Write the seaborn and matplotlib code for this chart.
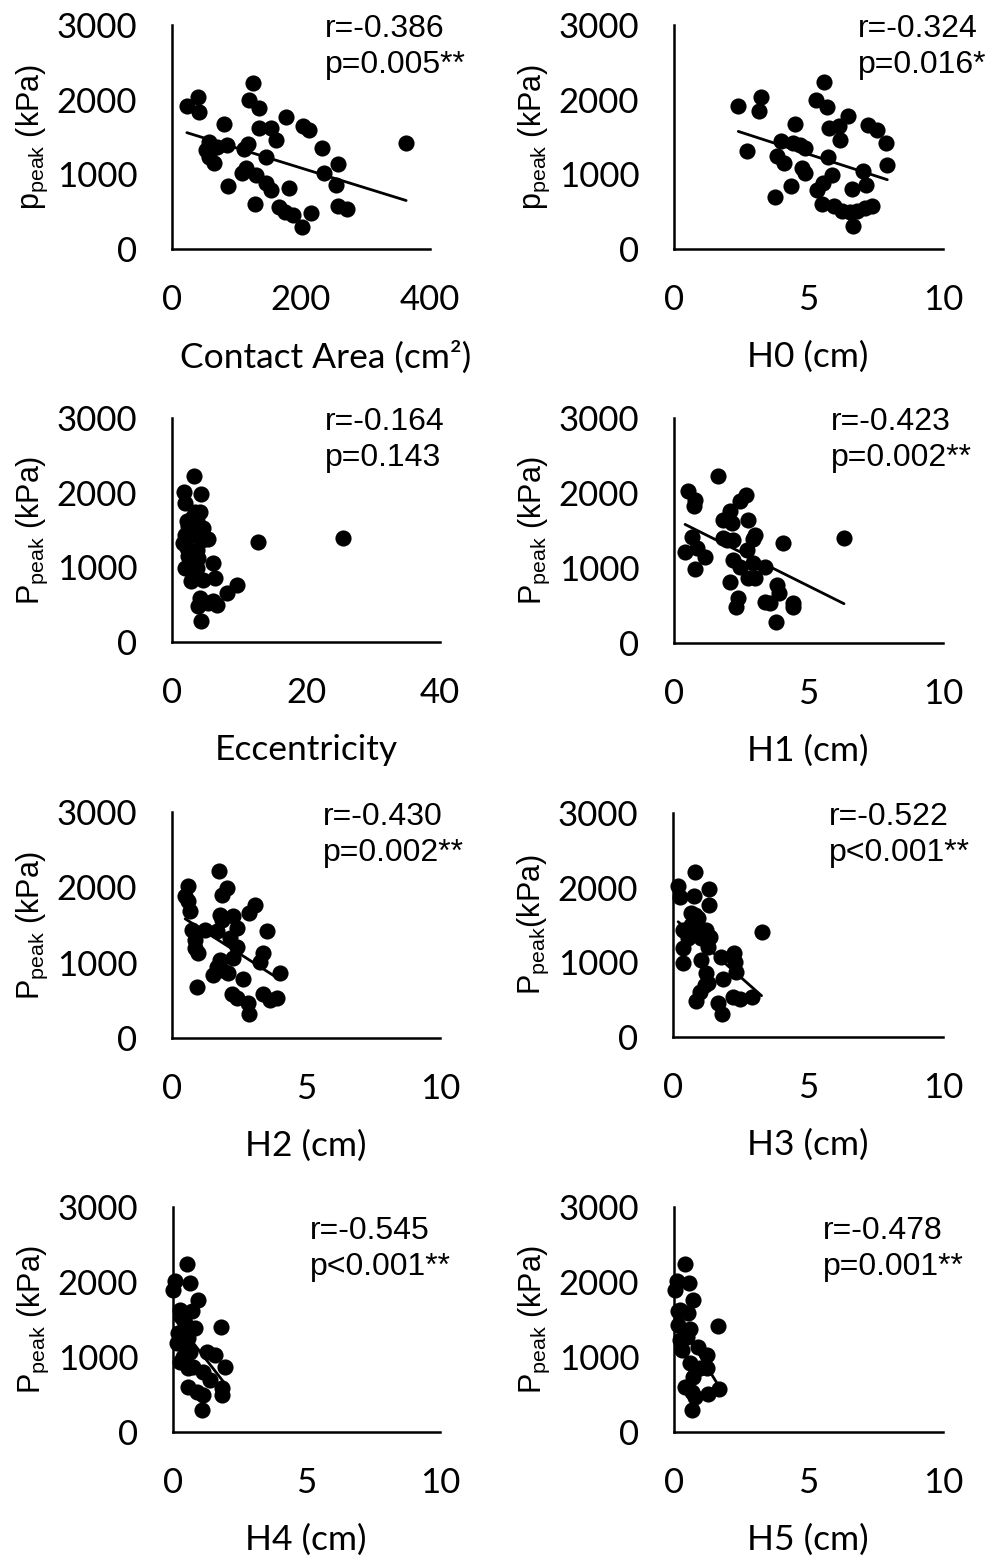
import matplotlib
matplotlib.use("Agg")
import matplotlib.pyplot as plt
import seaborn as sns

# ---- data: peak pressure (kPa) against each geometric parameter ----
contact_area = [125, 40, 23, 42, 120, 135, 81, 176, 203, 213, 135, 154, 162, 233, 363, 257, 235, 254,
                58, 52, 69, 85, 57, 65, 118, 111, 145, 115, 108, 130, 145, 154, 181, 87, 128, 166,
                175, 188, 201, 216, 257, 271]
ppeak_area = [2227, 2031, 1915, 1838, 1995, 1892, 1670, 1771, 1647, 1593, 1616, 1624, 1460, 1348, 1415,
              1134, 1022, 857, 1437, 1326, 1370, 1393, 1236, 1148, 1406, 1335, 1228, 1081, 1014, 991,
              880, 790, 813, 848, 603, 566, 499, 455, 299, 486, 576, 536]

h0 = [5.58, 2.39, 3.22, 3.17, 5.28, 5.68, 6.48, 4.50, 5.77, 6.14, 6.17, 7.22, 7.56, 7.88, 7.93, 2.72,
      3.97, 4.43, 4.68, 4.87, 3.84, 4.09, 4.75, 4.87, 5.74, 5.86, 5.53, 5.30, 4.34, 3.75, 7.04, 7.14,
      6.61, 5.49, 5.95, 6.23, 6.54, 6.64, 7.10, 7.35, 6.79]
ppeak_h0 = [2231, 1919, 2035, 1842, 1990, 1896, 1776, 1674, 1620, 1642, 1464, 1655, 1597, 1419, 1129,
            1307, 1441, 1419, 1397, 1352, 1240, 1152, 1085, 1018, 1232, 995, 884, 794, 848, 696, 1039,
            861, 803, 607, 570, 503, 490, 303, 549, 580, 503]

eccentricity = [3.28, 1.79, 4.28, 1.94, 4.18, 2.94, 2.43, 3.69, 1.94, 3.18, 5.42, 12.88, 25.57, 2.19,
                3.69, 2.43, 6.16, 1.94, 3.69, 2.79, 4.67, 6.42, 9.66, 8.16, 4.18, 6.16, 6.67, 3.93,
                5.42, 4.28, 1.69, 2.94, 3.43, 2.69, 4.43, 4.67, 3.93, 2.19]
ppeak_ecc = [2224, 2015, 1980, 1860, 1747, 1659, 1547, 1614, 1436, 1436, 1378, 1333, 1392, 1258, 1236,
             1146, 1059, 991, 991, 812, 835, 857, 768, 657, 590, 545, 501, 478, 523, 278, 1327, 1505,
             1747, 1103, 1371, 1527, 1125, 1614]

h1 = [1.65, 0.53, 0.78, 0.74, 2.68, 2.45, 2.08, 1.81, 2.14, 2.76, 3.01, 2.95, 4.04, 6.32, 0.66, 1.83,
      2.20, 0.41, 0.84, 1.15, 0.78, 2.72, 2.20, 2.45, 2.95, 3.38, 2.08, 2.76, 3.01, 3.82, 3.91, 2.39,
      2.30, 3.38, 3.57, 4.41, 4.41, 3.79, 1.96]
ppeak_h1 = [2222, 2021, 1910, 1821, 1977, 1888, 1754, 1643, 1599, 1643, 1443, 1385, 1332, 1399, 1420,
            1399, 1367, 1220, 1265, 1153, 985, 1242, 1109, 1019, 1065, 1019, 819, 864, 864, 775, 664,
            597, 485, 552, 530, 530, 485, 285, 1376]

h2 = [1.76, 0.61, 0.49, 0.61, 2.04, 1.85, 3.10, 2.88, 0.67, 1.79, 2.29, 1.85, 3.53, 0.74, 1.23, 1.67,
      2.41, 0.86, 2.16, 0.86, 2.41, 0.98, 2.29, 3.41, 3.28, 1.79, 1.85, 1.54, 2.10, 4.03, 2.64, 0.92,
      2.23, 2.41, 2.85, 2.88, 3.38, 3.66, 3.91, 1.67]
ppeak_h2 = [2212, 2022, 1879, 1813, 1991, 1902, 1769, 1659, 1680, 1636, 1613, 1569, 1414, 1436, 1436,
            1414, 1459, 1303, 1326, 1193, 1214, 1127, 1060, 1127, 1015, 1037, 904, 838, 861, 861, 781,
            674, 585, 528, 462, 319, 585, 505, 528, 948]

h3 = [0.80, 0.19, 0.25, 1.33, 0.77, 1.33, 0.68, 0.93, 0.37, 0.80, 1.24, 3.28, 0.56, 1.05, 1.36, 0.37,
      1.30, 0.37, 1.05, 1.79, 2.25, 2.29, 1.24, 2.35, 1.85, 1.30, 0.99, 0.84, 1.67, 1.83, 2.22, 2.47,
      2.91, 0.80, 0.65, 1.18]
ppeak_h3 = [2212, 2021, 1878, 1977, 1888, 1768, 1657, 1590, 1434, 1411, 1434, 1411, 1323, 1323, 1336,
            1189, 1210, 989, 1033, 1069, 1130, 1010, 863, 876, 775, 721, 609, 476, 454, 311, 542, 508,
            542, 1634, 1500, 699]

h4 = [0.51, 0.07, 0.64, 0.01, 0.95, 0.26, 0.70, 1.79, 0.45, 0.82, 0.20, 0.57, 0.14, 0.45, 1.26, 1.57,
      0.39, 1.95, 0.76, 1.13, 1.39, 0.57, 0.89, 1.13, 1.82, 1.82, 1.07, 0.57, 0.26, 0.64, 0.33]
ppeak_h4 = [2244, 2008, 1987, 1897, 1764, 1630, 1607, 1399, 1452, 1385, 1319, 1252, 1185, 1140, 1073,
            1029, 1006, 872, 872, 806, 695, 605, 538, 494, 584, 494, 294, 851, 939, 1073, 1563]

h5 = [0.41, 0.10, 0.57, 0.04, 0.72, 0.22, 0.53, 1.65, 0.16, 0.59, 0.22, 0.90, 1.22, 0.29, 0.59, 0.97,
      0.41, 0.66, 0.78, 1.28, 1.68, 0.66, 0.72, 1.22, 0.16, 0.47]
ppeak_h5 = [2244, 2008, 1987, 1897, 1764, 1630, 1586, 1407, 1430, 1372, 1229, 1140, 1029, 1096, 918,
            851, 605, 538, 472, 508, 570, 294, 739, 851, 1607, 1273]

x_labels = ["Contact Area (cm²)", "H0 (cm)", "Eccentricity", "H1 (cm)",
            "H2 (cm)", "H3 (cm)", "H4 (cm)", "H5 (cm)"]
y_labels = [r"p$_{\rm peak}$ (kPa)", r"p$_{\rm peak}$ (kPa)", r"P$_{\rm peak}$ (kPa)", r"P$_{\rm peak}$ (kPa)",
            r"P$_{\rm peak}$ (kPa)", r"P$_{\rm peak}$(kPa)", r"P$_{\rm peak}$ (kPa)", r"P$_{\rm peak}$ (kPa)"]
r_labels = ["r=-0.386", "r=-0.324", "r=-0.164", "r=-0.423", "r=-0.430", "r=-0.522", "r=-0.545", "r=-0.478"]
p_labels = ["p=0.005**", "p=0.016*", "p=0.143", "p=0.002**", "p=0.002**", "p<0.001**", "p<0.001**", "p=0.001**"]
x_ticks = [[0, 200, 400], [0, 5, 10], [0, 20, 40], [0, 5, 10], [0, 5, 10], [0, 5, 10], [0, 5, 10], [0, 5, 10]]
y_ticks = [0, 1000, 2000, 3000]
show_fit = [True, True, False, True, True, True, True, True]

series = [(contact_area, ppeak_area), (h0, ppeak_h0), (eccentricity, ppeak_ecc), (h1, ppeak_h1),
          (h2, ppeak_h2), (h3, ppeak_h3), (h4, ppeak_h4), (h5, ppeak_h5)]

# ---- layout (pixel boxes: left, top, right, bottom) ----
W, H = 992, 1558
boxes = [(172, 25, 430, 249), (674, 25, 943, 249),
         (172, 418, 440, 642), (674, 418, 943, 643),
         (172, 812, 440, 1038), (673, 813, 943, 1037),
         (173, 1207, 440, 1432), (674, 1207, 943, 1432)]
# horizontal centre of each x-axis title
xlabel_cx = [326, 808, 306, 808, 306, 808, 306, 808]
# left edge and baselines of the two annotation lines
notes = [(325, 37, 73), (858, 37, 73), (325, 430, 466), (831, 430, 466),
         (323, 825, 861), (829, 825, 861), (310, 1239, 1275), (823, 1239, 1275)]

sns.set_theme(style="white")
plt.rcParams["font.family"] = ["Lato", "DejaVu Sans"]
plt.rcParams["mathtext.fontset"] = "custom"
plt.rcParams["mathtext.rm"] = "Liberation Sans"
plt.rcParams["mathtext.it"] = "Liberation Sans:italic"
plt.rcParams["mathtext.bf"] = "Liberation Sans:bold"

fig = plt.figure(figsize=(W / 100, H / 100), dpi=100)
fig.patch.set_facecolor("white")

for i, (xs, ys) in enumerate(series):
    l, t, r, b = boxes[i]
    ax = fig.add_axes([l / W, 1 - b / H, (r - l) / W, (b - t) / H])
    ax.set_facecolor("white")
    if show_fit[i]:
        sns.regplot(x=xs, y=ys, ax=ax, ci=None, truncate=True, color="black",
                    scatter_kws=dict(s=135, linewidths=0, alpha=1, clip_on=False, zorder=3),
                    line_kws=dict(lw=2.0, color="black", zorder=4))
    else:
        sns.scatterplot(x=xs, y=ys, ax=ax, color="black", s=135, linewidth=0, clip_on=False, zorder=3)
    ax.set_xlim(x_ticks[i][0], x_ticks[i][-1])
    ax.set_ylim(0, 3000)
    ax.set_xticks(x_ticks[i])
    ax.set_yticks(y_ticks)
    ax.tick_params(axis="both", length=0, labelsize=25, colors="black")
    ax.tick_params(axis="x", pad=25)
    ax.tick_params(axis="y", pad=25)
    sns.despine(ax=ax)
    for side in ("left", "bottom"):
        ax.spines[side].set_color("black")
        ax.spines[side].set_linewidth(1.8)
    ax.set_xlabel(x_labels[i], fontsize=25.5, color="black", labelpad=18)
    ax.xaxis.label.set_x((xlabel_cx[i] - l) / (r - l))
    ax.set_ylabel(y_labels[i], fontsize=22, color="black", labelpad=5, family="Liberation Sans")

    nx, yr, yp = notes[i]
    fig.text(nx / W, 1 - yr / H, r_labels[i], fontsize=23, family="Liberation Sans",
             ha="left", va="baseline", color="black")
    fig.text(nx / W, 1 - yp / H, p_labels[i], fontsize=23, family="Liberation Sans",
             ha="left", va="baseline", color="black")

fig.savefig("out.png", dpi=100, facecolor="white")
